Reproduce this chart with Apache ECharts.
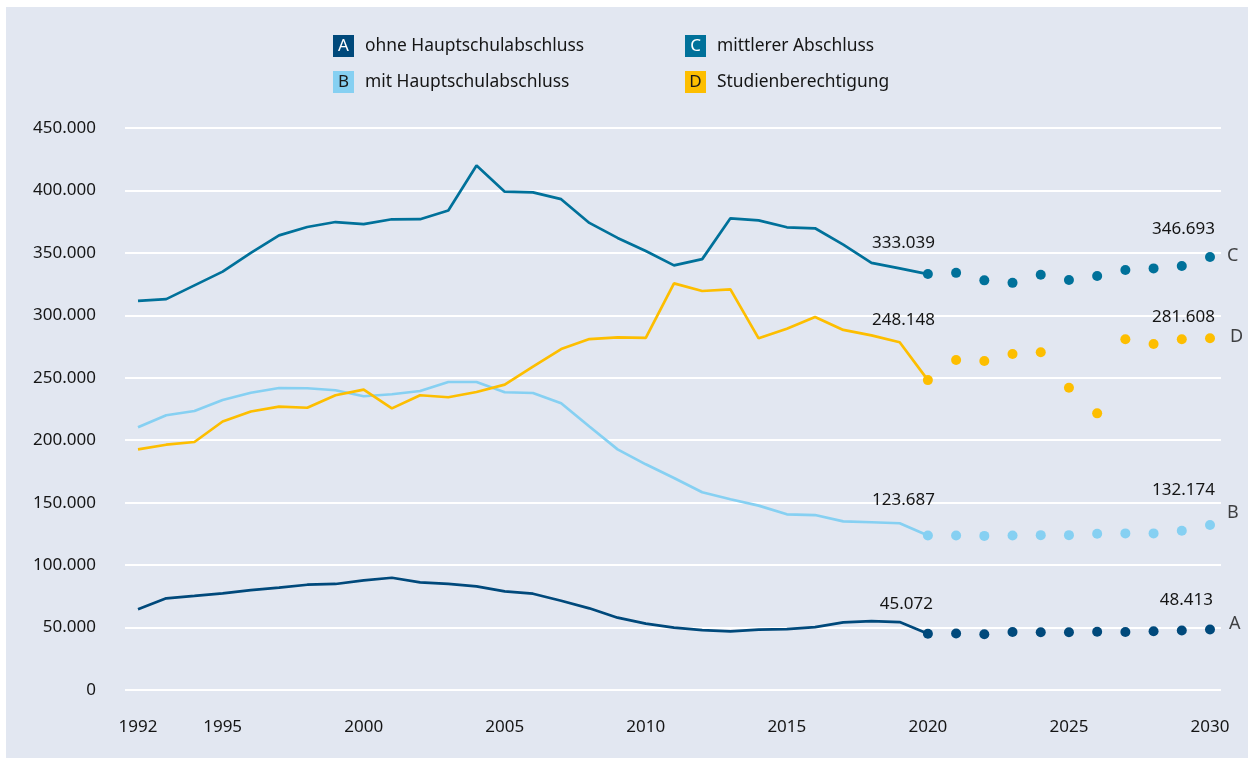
<!DOCTYPE html>
<html>
<head>
<meta charset="utf-8">
<script src="https://cdn.jsdelivr.net/npm/echarts@6/dist/echarts.min.js"></script>
<style>
  html, body { margin: 0; padding: 0; background: #ffffff; }
  #chart { width: 1248px; height: 758px; }
</style>
</head>
<body>
<div id="chart"></div>
<script>
// ---- Data ----
const histYears = [1992,1993,1994,1995,1996,1997,1998,1999,2000,2001,2002,2003,2004,2005,2006,2007,2008,2009,2010,2011,2012,2013,2014,2015,2016,2017,2018,2019,2020];
const projYears = [2020,2021,2022,2023,2024,2025,2026,2027,2028,2029,2030];

const aHist = [64600,73400,75300,77400,80000,81900,84300,84900,87800,89900,86200,84900,83000,79000,77100,71500,65400,57900,53100,49900,48000,47000,48300,48800,50400,54200,55200,54400,45072];
const bHist = [210300,220000,223400,232200,238000,241800,241600,240000,235200,236800,239400,246600,246600,238400,237800,229600,211000,192700,180700,169700,158300,152700,147600,140700,140100,135000,134300,133500,123687];
const cHist = [311500,313000,324000,335000,350000,364000,370700,374700,373000,376900,377000,384000,420000,399000,398500,393000,374000,362000,351500,340000,345000,377700,376000,370500,369700,356600,342000,337600,333039];
const dHist = [192700,196400,198600,215000,223000,226900,226000,236000,240500,225500,236000,234400,238600,244500,259000,273000,281000,282400,282000,325600,319500,320800,281600,289300,298700,288300,284000,278400,248148];

const aProj = [45072,45300,44600,46500,46200,46200,46700,46500,47000,47700,48413];
const bProj = [123687,123700,123400,123700,124000,124000,125100,125400,125400,127500,132174];
const cProj = [333039,334000,328000,326000,332500,328300,331500,336300,337600,339500,346693];
const dProj = [248148,264200,263400,269000,270400,242000,221500,280800,277000,280800,281608];

const seriesKeys = ['A','B','C','D'];
const seriesNames = ['ohne Hauptschulabschluss','mit Hauptschulabschluss','mittlerer Abschluss','Studienberechtigung'];
const xTickLabels = [1992,1995,2000,2005,2010,2015,2020,2025,2030];
const yTicks = { min: 0, max: 450000, interval: 50000 };

// ---- Styling ----
const colors = { A: '#00497B', B: '#86D0F2', C: '#00719A', D: '#FDBE00' };
const letterColors = { A: '#ffffff', B: '#1a1a1a', C: '#ffffff', D: '#1a1a1a' };
const FONT = '"Noto Sans", sans-serif';
const TXT = '#151515';

// label offsets for first/last projected point [dx, dy]
const valueLabelOffsets = {
  A: [[5,-30],[3,-29]],
  B: [[7,-35],[5,-35]],
  C: [[7,-31],[5,-28]],
  D: [[7,-60],[5,-21]]
};
const letterOffsets = { A: [19,-6], B: [17,-12], C: [17,-1], D: [20,-1] };

function de(v) {
  return String(Math.round(v)).replace(/\B(?=(\d{3})+(?!\d))/g, '.');
}

const hist = { A: aHist, B: bHist, C: cHist, D: dHist };
const proj = { A: aProj, B: bProj, C: cProj, D: dProj };

const series = [];
seriesKeys.forEach((k, si) => {
  series.push({
    name: seriesNames[si],
    type: 'line',
    data: histYears.map((y, i) => [y, hist[k][i]]),
    symbol: 'none',
    lineStyle: { color: colors[k], width: 2.7 },
    itemStyle: { color: colors[k] },
    z: 2,
    silent: true
  });
  const n = projYears.length;
  series.push({
    name: seriesNames[si],
    type: 'scatter',
    symbolSize: 10,
    itemStyle: { color: colors[k], opacity: 1 },
    z: 3,
    data: projYears.map((y, i) => {
      const item = { value: [y, proj[k][i]] };
      if (i === 0 || i === n - 1) {
        const off = valueLabelOffsets[k][i === 0 ? 0 : 1];
        item.label = {
          show: true, position: 'inside', align: 'right', verticalAlign: 'middle',
          offset: off, formatter: (p) => de(p.value[1]),
          color: TXT, fontFamily: FONT, fontSize: 17
        };
      }
      return item;
    })
  });
  series.push({
    type: 'scatter',
    symbolSize: 0,
    z: 4,
    silent: true,
    data: [{ value: [projYears[n - 1], proj[k][n - 1]] }],
    label: {
      show: true, position: 'inside', align: 'left', verticalAlign: 'middle',
      offset: letterOffsets[k], formatter: k,
      color: TXT, fontFamily: FONT, fontSize: 18
    }
  });
});

// legend graphics
const legendPos = [
  { x: 333, y: 35 }, { x: 333, y: 71 }, { x: 685, y: 35 }, { x: 685, y: 71 }
];
const graphic = [
  { type: 'rect', shape: { x: 6, y: 7, width: 1242, height: 751 }, style: { fill: '#E2E7F1' }, z: -10, silent: true }
];
seriesKeys.forEach((k, i) => {
  const p = legendPos[i];
  graphic.push({ type: 'rect', shape: { x: p.x, y: p.y, width: 21, height: 22 }, style: { fill: colors[k] }, silent: true });
  graphic.push({ type: 'text', x: p.x + 10.5, y: p.y + 11, style: { text: k, fill: letterColors[k], font: '17px ' + FONT, align: 'center', verticalAlign: 'middle' }, silent: true });
  graphic.push({ type: 'text', x: p.x + 32, y: p.y + 11, style: { text: seriesNames[i], fill: TXT, font: '17.4px ' + FONT, align: 'left', verticalAlign: 'middle' }, silent: true });
});

const chart = echarts.init(document.getElementById('chart'), null, { renderer: 'canvas' });
chart.setOption({
  animation: false,
  backgroundColor: '#ffffff',
  graphic: graphic,
  grid: { left: 125, right: 27, top: 128, bottom: 68, containLabel: false },
  xAxis: {
    type: 'value',
    min: 1991.539,
    max: 2030.39,
    axisLine: { show: false },
    axisTick: { show: false },
    splitLine: { show: false },
    axisLabel: {
      customValues: xTickLabels,
      formatter: (v) => String(v),
      color: TXT, fontFamily: FONT, fontSize: 17, margin: 29
    }
  },
  yAxis: {
    type: 'value',
    min: yTicks.min, max: yTicks.max, interval: yTicks.interval,
    axisLine: { show: false },
    axisTick: { show: false },
    splitLine: { show: true, lineStyle: { color: '#ffffff', width: 2 } },
    axisLabel: {
      formatter: (v) => de(v),
      color: TXT, fontFamily: FONT, fontSize: 17, margin: 29
    }
  },
  series: series
});
</script>
</body>
</html>
